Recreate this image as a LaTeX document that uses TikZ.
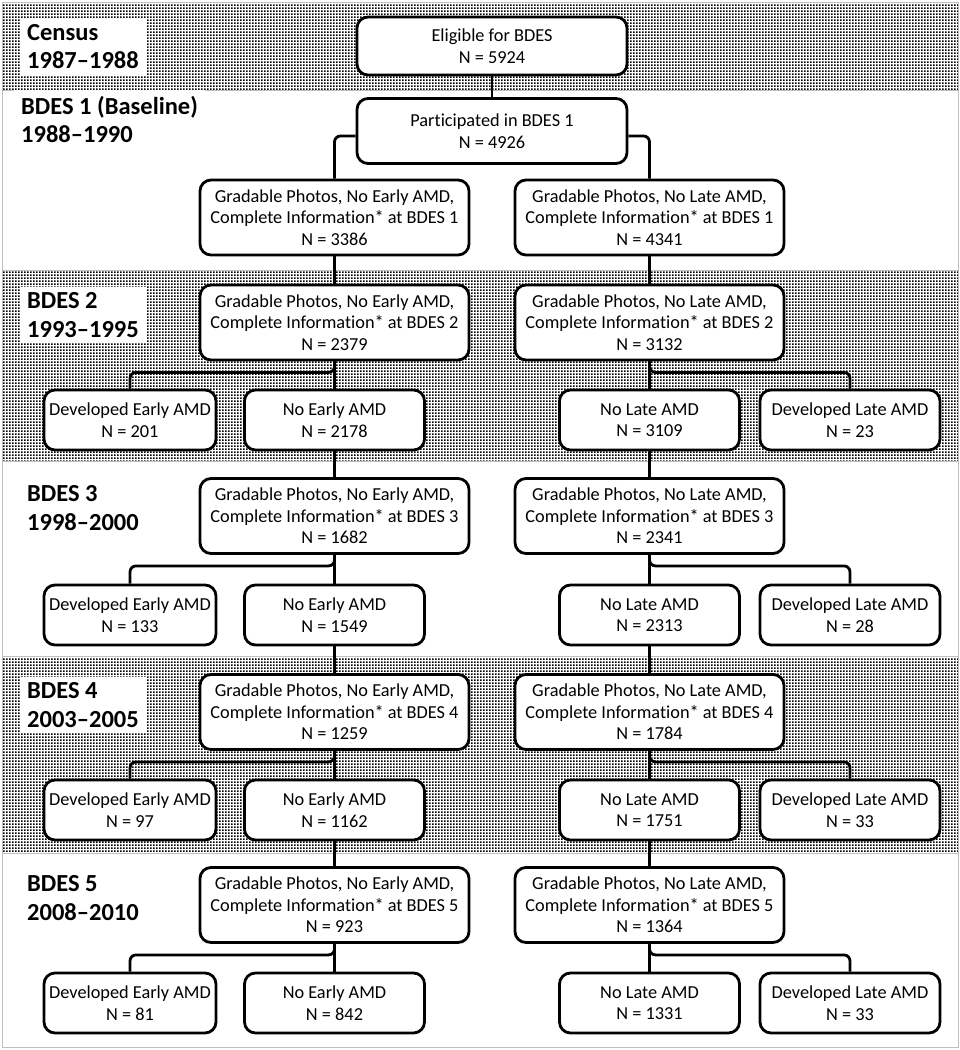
\documentclass[tikz,border=0pt]{standalone}
\usepackage{fontspec}
\setmainfont{Carlito}[Ligatures={TeX,NoCommon}]
\usetikzlibrary{patterns.meta}
\tikzdeclarepattern{
  name=bdesdots,
  type=uncolored,
  bounding box={(0pt,0pt) and (3pt,3pt)},
  tile size={(3pt,3pt)},
  code={\fill (0pt,0pt) rectangle (2pt,2pt);}
}
\begin{document}
\begin{tikzpicture}[x=1pt,y=-1pt,
  box/.style={draw=black, line width=2.8pt, rounded corners=11pt, fill=white,
    align=center, font=\fontsize{18.3}{21.5}\selectfont, inner sep=0pt},
  gbox/.style={box, minimum width=269pt, minimum height=75pt},
  sbox/.style={box, minimum width=180pt, minimum height=60pt},
  lbl/.style={fill=white, align=left, anchor=west,
    font=\fontsize{24.5}{28.5}\selectfont\bfseries, inner xsep=7pt, inner ysep=6pt},
  band/.style={draw=black!25, line width=0.8pt},
  dotband/.style={band, pattern=bdesdots, pattern color=black},
  conn/.style={draw=black, line width=2.8pt, rounded corners=6pt}]
\useasboundingbox (0,0) rectangle (960,1050);
\fill[white] (0,0) rectangle (960,1050);
% bands
\path[dotband] (2,2) rectangle (958,90);
\path[band] (2,90) rectangle (958,270);
\path[dotband] (2,270) rectangle (958,461);
\path[band] (2,461) rectangle (958,656);
\path[dotband] (2,656) rectangle (958,853);
\path[band] (2,853) rectangle (958,1047);
% labels
\node[lbl] (lab0) at (20,46.5) {Census\\1987–1988};
\node[lbl] (lab1) at (14,119.5) {BDES 1 (Baseline)\\1988–1990};
\node[lbl] (lab2) at (20,315) {BDES 2\\1993–1995};
\node[lbl] (lab3) at (20,508) {BDES 3\\1998–2000};
\node[lbl] (lab4) at (20,705) {BDES 4\\2003–2005};
\node[lbl] (lab5) at (20,898) {BDES 5\\2008–2010};
% top
\node[box, minimum width=270pt, minimum height=58pt] (elig) at (492,46) {Eligible for BDES\\N = 5924};
\node[box, minimum width=270pt, minimum height=65pt] (part) at (492,131) {Participated in BDES 1\\N = 4926};
% BDES 1
\node[gbox] (L1) at (334.5,217.5) {Gradable Photos, No Early AMD,\\Complete Information* at BDES 1\\N = 3386};
\node[gbox] (R1) at (649.5,217.5) {Gradable Photos, No Late AMD,\\Complete Information* at BDES 1\\N = 4341};
% BDES 2
\node[gbox] (L2) at (334.5,322.5) {Gradable Photos, No Early AMD,\\Complete Information* at BDES 2\\N = 2379};
\node[gbox] (R2) at (649.5,322.5) {Gradable Photos, No Late AMD,\\Complete Information* at BDES 2\\N = 3132};
\node[sbox, minimum width=172pt] (DE2) at (130,420) {Developed Early AMD\\N = 201};
\node[sbox] (NE2) at (334.5,420) {No Early AMD\\N = 2178};
\node[sbox] (NL2) at (649.5,420) {No Late AMD\\N = 3109};
\node[sbox] (DL2) at (850,420) {Developed Late AMD\\N = 23};
% BDES 3
\node[gbox] (L3) at (334.5,516) {Gradable Photos, No Early AMD,\\Complete Information* at BDES 3\\N = 1682};
\node[gbox] (R3) at (649.5,516) {Gradable Photos, No Late AMD,\\Complete Information* at BDES 3\\N = 2341};
\node[sbox, minimum width=172pt] (DE3) at (130,615) {Developed Early AMD\\N = 133};
\node[sbox] (NE3) at (334.5,615) {No Early AMD\\N = 1549};
\node[sbox] (NL3) at (649.5,615) {No Late AMD\\N = 2313};
\node[sbox] (DL3) at (850,615) {Developed Late AMD\\N = 28};
% BDES 4
\node[gbox] (L4) at (334.5,712) {Gradable Photos, No Early AMD,\\Complete Information* at BDES 4\\N = 1259};
\node[gbox] (R4) at (649.5,712) {Gradable Photos, No Late AMD,\\Complete Information* at BDES 4\\N = 1784};
\node[sbox, minimum width=172pt] (DE4) at (130,810) {Developed Early AMD\\N = 97};
\node[sbox] (NE4) at (334.5,810) {No Early AMD\\N = 1162};
\node[sbox] (NL4) at (649.5,810) {No Late AMD\\N = 1751};
\node[sbox] (DL4) at (850,810) {Developed Late AMD\\N = 33};
% BDES 5
\node[gbox] (L5) at (334.5,905) {Gradable Photos, No Early AMD,\\Complete Information* at BDES 5\\N = 923};
\node[gbox] (R5) at (649.5,905) {Gradable Photos, No Late AMD,\\Complete Information* at BDES 5\\N = 1364};
\node[sbox, minimum width=172pt] (DE5) at (130,1003) {Developed Early AMD\\N = 81};
\node[sbox] (NE5) at (334.5,1003) {No Early AMD\\N = 842};
\node[sbox] (NL5) at (649.5,1003) {No Late AMD\\N = 1331};
\node[sbox] (DL5) at (850,1003) {Developed Late AMD\\N = 33};
% connectors
\draw[conn] (elig) -- (part);
\draw[conn] ([yshift=-5pt]part.west) -| (L1.north);
\draw[conn] ([yshift=-5pt]part.east) -| (R1.north);
\draw[conn] (L1) -- (L2);
\draw[conn] (R1) -- (R2);
\foreach \i/\j in {2/3,3/4,4/5}{
  \draw[conn] (NE\i) -- (L\j);
  \draw[conn] (NL\i) -- (R\j);
}
\foreach \i in {2,3,4,5}{
  \draw[conn] (L\i) -- (NE\i);
  \draw[conn] (R\i) -- (NL\i);
  \draw[conn] (L\i.south) -- ++(0,11) -| (DE\i.north);
  \draw[conn] (R\i.south) -- ++(0,11) -| (DL\i.north);
}
\end{tikzpicture}
\end{document}
